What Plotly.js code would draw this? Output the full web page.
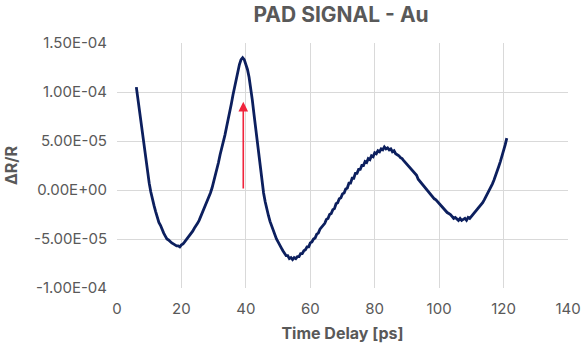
<!DOCTYPE html>
<html>
<head>
<meta charset="utf-8">
<script src="https://cdn.plot.ly/plotly-3.0.1.min.js"></script>
<style>
  html, body { margin: 0; padding: 0; background: #fff; }
  #chart { width: 583px; height: 344px; }
</style>
</head>
<body>
<div id="chart"></div>
<script>
// Pump-probe time delay (ps)
const timeDelay = [
  6.0, 6.5, 7.0, 7.5, 8.0, 8.5, 9.0, 9.5, 10.0, 10.5, 11.0, 11.5, 12.0, 12.5, 13.0, 13.5, 14.0, 14.5, 15.0, 15.5,
  16.0, 16.5, 17.0, 17.5, 18.0, 18.5, 19.0, 19.5, 20.0, 20.5, 21.0, 21.5, 22.0, 22.5, 23.0, 23.5, 24.0, 24.5, 25.0, 25.5,
  26.0, 26.5, 27.0, 27.5, 28.0, 28.5, 29.0, 29.5, 30.0, 30.5, 31.0, 31.5, 32.0, 32.5, 33.0, 33.5, 34.0, 34.5, 35.0, 35.5,
  36.0, 36.5, 37.0, 37.5, 38.0, 38.5, 39.0, 39.5, 40.0, 40.5, 41.0, 41.5, 42.0, 42.5, 43.0, 43.5, 44.0, 44.5, 45.0, 45.5,
  46.0, 46.5, 47.0, 47.5, 48.0, 48.5, 49.0, 49.5, 50.0, 50.5, 51.0, 51.5, 52.0, 52.5, 53.0, 53.5, 54.0, 54.5, 55.0, 55.5,
  56.0, 56.5, 57.0, 57.5, 58.0, 58.5, 59.0, 59.5, 60.0, 60.5, 61.0, 61.5, 62.0, 62.5, 63.0, 63.5, 64.0, 64.5, 65.0, 65.5,
  66.0, 66.5, 67.0, 67.5, 68.0, 68.5, 69.0, 69.5, 70.0, 70.5, 71.0, 71.5, 72.0, 72.5, 73.0, 73.5, 74.0, 74.5, 75.0, 75.5,
  76.0, 76.5, 77.0, 77.5, 78.0, 78.5, 79.0, 79.5, 80.0, 80.5, 81.0, 81.5, 82.0, 82.5, 83.0, 83.5, 84.0, 84.5, 85.0, 85.5,
  86.0, 86.5, 87.0, 87.5, 88.0, 88.5, 89.0, 89.5, 90.0, 90.5, 91.0, 91.5, 92.0, 92.5, 93.0, 93.5, 94.0, 94.5, 95.0, 95.5,
  96.0, 96.5, 97.0, 97.5, 98.0, 98.5, 99.0, 99.5, 100.0, 100.5, 101.0, 101.5, 102.0, 102.5, 103.0, 103.5, 104.0, 104.5, 105.0, 105.5,
  106.0, 106.5, 107.0, 107.5, 108.0, 108.5, 109.0, 109.5, 110.0, 110.5, 111.0, 111.5, 112.0, 112.5, 113.0, 113.5, 114.0, 114.5, 115.0, 115.5,
  116.0, 116.5, 117.0, 117.5, 118.0, 118.5, 119.0, 119.5, 120.0, 120.5, 121.0
];

// Measured reflectivity change ΔR/R, in units of 1E-5
const dRoverR_e5 = [
  10.5, 9.2, 7.9, 6.6, 5.4, 4.1, 2.9, 1.8, 0.7, -0.2, -1.0, -1.6, -2.2, -2.8, -3.3, -3.6, -4.1, -4.4, -4.7, -5.0,
  -5.1, -5.3, -5.4, -5.5, -5.6, -5.7, -5.7, -5.8, -5.6, -5.5, -5.3, -5.1, -4.9, -4.7, -4.4, -4.2, -3.9, -3.7, -3.4, -3.1,
  -2.7, -2.4, -2.0, -1.7, -1.2, -0.8, -0.3, 0.2, 0.8, 1.5, 2.2, 2.8, 3.6, 4.2, 4.9, 5.6, 6.4, 7.1, 7.9, 8.8,
  9.7, 10.5, 11.3, 12.1, 12.8, 13.3, 13.5, 13.3, 12.9, 12.3, 11.5, 10.5, 9.2, 7.8, 6.4, 5.0, 3.5, 2.1, 0.8, -0.3,
  -1.2, -2.0, -2.6, -3.2, -3.7, -4.2, -4.6, -5.0, -5.3, -5.7, -5.9, -6.2, -6.4, -6.7, -6.7, -7.0, -6.9, -7.1, -6.9, -7.0,
  -6.8, -6.8, -6.5, -6.5, -6.2, -6.1, -5.8, -5.8, -5.4, -5.3, -5.0, -4.9, -4.5, -4.4, -4.0, -3.8, -3.5, -3.4, -3.0, -2.9,
  -2.5, -2.4, -2.0, -1.9, -1.4, -1.3, -0.9, -0.8, -0.4, -0.3, 0.1, 0.2, 0.7, 0.7, 1.2, 1.2, 1.7, 1.7, 2.1, 2.1,
  2.5, 2.5, 2.9, 2.8, 3.2, 3.1, 3.5, 3.4, 3.8, 3.7, 4.0, 3.9, 4.2, 4.1, 4.4, 4.2, 4.3, 4.1, 4.2, 3.9,
  4.0, 3.7, 3.6, 3.5, 3.3, 3.2, 3.0, 2.8, 2.6, 2.4, 2.3, 2.0, 1.8, 1.6, 1.5, 1.1, 0.9, 0.6, 0.5, 0.2,
  0.0, -0.2, -0.3, -0.5, -0.7, -0.9, -1.0, -1.2, -1.4, -1.5, -1.8, -1.9, -2.1, -2.3, -2.4, -2.5, -2.7, -2.9, -2.8, -3.0,
  -3.1, -2.9, -3.1, -3.0, -2.9, -3.1, -2.8, -2.9, -2.7, -2.6, -2.4, -2.2, -2.0, -1.8, -1.6, -1.3, -1.0, -0.7, -0.4, 0.0,
  0.3, 0.6, 1.0, 1.4, 1.9, 2.4, 2.9, 3.4, 4.0, 4.6, 5.3
];
const dRoverR = dRoverR_e5.map(v => v * 1e-5);

// Y axis tick values and their scientific-notation labels
const yTickVals = [-1.0e-4, -5.0e-5, 0, 5.0e-5, 1.0e-4, 1.5e-4];
const yTickText = ["-1.00E-04", "-5.00E-05", "0.00E+00", "5.00E-05", "1.00E-04", "1.50E-04"];
const xTickVals = [0, 20, 40, 60, 80, 100, 120, 140];

// Red arrow marking the first peak: tail at ΔR/R = 0, head just below the peak
const arrowTime = [39.2, 39.2];
const arrowSpan = [0, 9.0e-5];

const gray = "#595959";
const font = "Inter, Roboto, 'Liberation Sans', sans-serif";

const trace = {
  x: timeDelay,
  y: dRoverR,
  type: "scatter",
  mode: "lines",
  line: { color: "#0c1f5e", width: 2.8 },
  hoverinfo: "skip"
};

const layout = {
  width: 583,
  height: 344,
  margin: { l: 117, r: 15, t: 43, b: 56 },
  paper_bgcolor: "#ffffff",
  plot_bgcolor: "#ffffff",
  showlegend: false,
  font: { family: font, color: gray, size: 15 },
  title: {
    text: "<b>PAD SIGNAL - Au</b>",
    font: { family: font, size: 21, color: gray },
    x: 0.585, xanchor: "center",
    y: 0.958, yanchor: "middle"
  },
  xaxis: {
    range: [0, 140],
    tickvals: xTickVals,
    showgrid: true,
    gridcolor: "#d9d9d9",
    gridwidth: 1,
    zeroline: false,
    showline: false,
    ticks: "",
    ticklabelstandoff: 10,
    tickfont: { family: font, size: 15, color: gray },
    title: {
      text: "<b>Time Delay [ps]</b>",
      font: { family: font, size: 16, color: gray },
      standoff: 10
    }
  },
  yaxis: {
    range: [-1.0e-4, 1.5e-4],
    tickvals: yTickVals,
    ticktext: yTickText,
    showgrid: true,
    gridcolor: "#d9d9d9",
    gridwidth: 1,
    zeroline: false,
    showline: false,
    ticks: "",
    ticklabelstandoff: 9,
    tickfont: { family: font, size: 15, color: gray },
    title: {
      text: "<b>ΔR/R</b>",
      font: { family: font, size: 16, color: gray },
      standoff: 12
    }
  },
  annotations: [{
    x: arrowTime[1], y: arrowSpan[1],
    ax: arrowTime[0], ay: arrowSpan[0],
    xref: "x", yref: "y", axref: "x", ayref: "y",
    text: "",
    showarrow: true,
    arrowhead: 2,
    arrowsize: 1.2,
    arrowwidth: 1.6,
    arrowcolor: "#f0243c"
  }]
};

Plotly.newPlot("chart", [trace], layout, { displayModeBar: false, staticPlot: true });
</script>
</body>
</html>
